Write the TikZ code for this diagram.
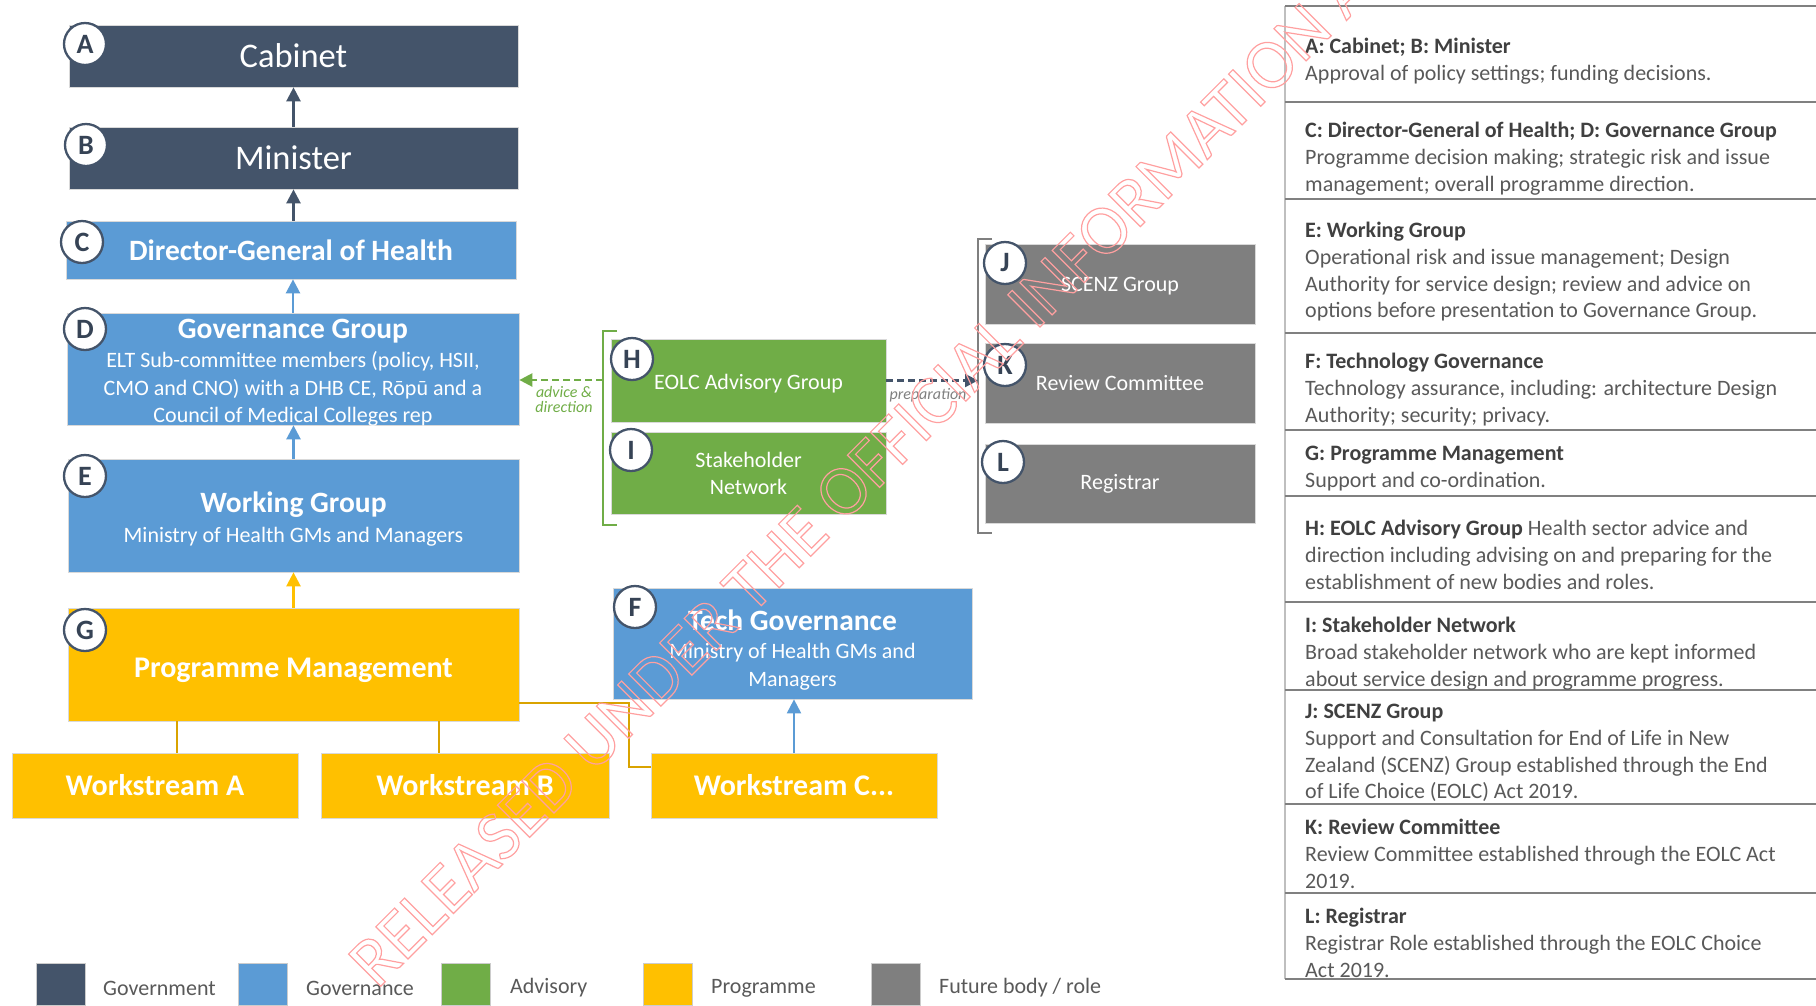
\documentclass[tikz,border=0pt]{standalone}
\usepackage{fontspec}
\setmainfont{Carlito}
\usetikzlibrary{arrows.meta}
\definecolor{govc}{HTML}{44546A}
\definecolor{bluc}{HTML}{5B9BD5}
\definecolor{grnc}{HTML}{70AD47}
\definecolor{yelc}{HTML}{FFC000}
\definecolor{gryc}{HTML}{7F7F7F}
\definecolor{txtc}{HTML}{595959}
\definecolor{ttlc}{HTML}{404040}
\definecolor{wmc}{HTML}{FFA0A0}
\newcommand{\wmout}[1]{\special{pdf:literal 1 Tr 1.2 w}#1\special{pdf:literal 0 Tr}}
\newcommand{\tstrut}[1]{\rule{0pt}{#1}}
\begin{document}
\begin{tikzpicture}[x=1pt,y=-1pt,
  box/.style={rectangle, draw=black!15, line width=0.7pt, inner sep=0pt, text=white, align=center},
  govt/.style={box, fill=govc, font=\fontsize{34.5}{40}\selectfont},
  gvn/.style={box, fill=bluc},
  adv/.style={box, fill=grnc, font=\fontsize{22}{27}\selectfont},
  prg/.style={box, fill=yelc, font=\fontsize{30}{34}\selectfont\bfseries},
  fut/.style={box, fill=gryc, font=\fontsize{22}{27}\selectfont},
  boxtext/.style={inner sep=0pt, text=white, align=center},
  badge/.style={circle, fill=white, draw=govc, line width=2.3pt, minimum size=42pt, inner sep=0pt, font=\fontsize{28}{28}\selectfont\bfseries, text=govc!80!black},
  arr/.style={-{Triangle[length=14pt,width=14pt]}, line width=2.4pt},
  yline/.style={draw=yelc!85!black, line width=2pt},
  dasharr/.style={-{Triangle[length=13pt,width=13pt]}, line width=2.4pt, dash pattern=on 7pt off 4pt},
  brk/.style={line width=2pt},
  entry/.style={anchor=north west, inner sep=0pt, align=left, text=txtc, font=\fontsize{22}{26.7}\selectfont},
  legsq/.style={rectangle, draw=black!20, line width=0.7pt, minimum width=49pt, minimum height=42pt, inner sep=0pt},
  leglab/.style={anchor=west, inner sep=0pt, text=txtc, font=\fontsize{22}{26}\selectfont},
  sepline/.style={draw=black!50, line width=2pt}
]
\useasboundingbox (0,0) rectangle (1816,1005);

% --- left hierarchy
\node[govt, minimum width=449pt, minimum height=62pt] (cab) at (293.5,56) {Cabinet};
\node[govt, minimum width=449pt, minimum height=62pt] (min) at (293.5,158) {Minister};
\node[gvn, minimum width=450pt, minimum height=58pt, font=\fontsize{29.5}{34}\selectfont\bfseries] (dg) at (291,250) {Director-General of Health};
\node[gvn, minimum width=452pt, minimum height=112pt] (gov) at (293,369) {};
\node[boxtext, font=\fontsize{22}{27.5}\selectfont] (govtx) at ([yshift=-4pt]gov.center)
  {{\fontsize{29.5}{27.5}\selectfont\bfseries Governance Group}\\[1.5pt]ELT Sub-committee members (policy, HSII,\\CMO and CNO) with a DHB CE, Rōpū and a\\Council of Medical Colleges rep};
\node[gvn, minimum width=451pt, minimum height=113pt] (wg) at (293.5,515.5) {};
\node[boxtext, font=\fontsize{22}{29.7}\selectfont] (wgtx) at ([yshift=-3.5pt]wg.center)
  {{\fontsize{29.5}{29.7}\selectfont\bfseries Working Group}\\Ministry of Health GMs and Managers};
\node[prg, minimum width=451pt, minimum height=113pt] (pm) at (293.5,664.5) {\tstrut{31pt}Programme Management};
\node[prg, minimum width=286pt, minimum height=65pt] (wsa) at (155,785.5) {Workstream A};
\node[prg, minimum width=288pt, minimum height=65pt] (wsb) at (465,785.5) {Workstream B};
\node[prg, minimum width=286pt, minimum height=65pt] (wsc) at (794,785.5) {Workstream C...};
\node[gvn, minimum width=359pt, minimum height=111pt, font=\fontsize{22}{28}\selectfont] (tg) at (792.5,643.5)
  {\tstrut{33pt}{\fontsize{29.5}{28}\selectfont\bfseries Tech Governance}\\Ministry of Health GMs and\\Managers};

% --- advisory
\node[adv, minimum width=275pt, minimum height=83pt] (h) at (748.5,380.5) {\tstrut{22pt}EOLC Advisory Group};
\node[adv, minimum width=275pt, minimum height=82pt] (i) at (748.5,473) {Stakeholder\\Network};

% --- future bodies
\node[fut, minimum width=270pt, minimum height=80pt] (j) at (1120,284) {\tstrut{19pt}SCENZ Group};
\node[fut, minimum width=270pt, minimum height=80pt] (k) at (1120,383) {Review Committee};
\node[fut, minimum width=270pt, minimum height=79pt] (l) at (1120,483.5) {Registrar};

% --- brackets
\draw[brk, grnc] (617,331) -- (603,331) -- (603,525) -- (617,525);
\draw[brk, gryc] (992,239) -- (978,239) -- (978,533) -- (992,533);
\coordinate (gb) at (603,380);
\coordinate (kb) at (978,380.5);

% --- connectors
\draw[arr, govc] (min.north) -- (min.north |- cab.south);
\draw[arr, govc] (dg.north -| min.south) -- (min.south);
\draw[arr, bluc] (gov.north) -- (gov.north |- dg.south);
\draw[arr, bluc] (wg.north) -- (wg.north |- gov.south);
\draw[arr, yelc] (pm.north) -- (pm.north |- wg.south);
\draw[arr, bluc, line width=2pt] (wsc.north) -- (wsc.north |- tg.south);
\draw[yline] ([xshift=22pt]wsa.north) -- ([xshift=22pt]wsa.north |- pm.south);
\draw[yline] ([xshift=-26pt]wsb.north) -- ([xshift=-26pt]wsb.north |- pm.south);
\coordinate (pmr) at ([yshift=-38.5pt]pm.east);
\coordinate (wscl) at ([yshift=18.5pt]wsc.west);
\draw[yline] (pmr) -- ++(110,0) |- (wscl);
\draw[dasharr, grnc] (gb) -- (gb -| gov.east);
\node[text=grnc, align=center, inner sep=0pt, font=\fontsize{16}{15}\selectfont\itshape] (adl) at (564,399) {advice \&\\direction};
\draw[dasharr, govc] (h.east) -- (kb);
\node[text=gryc, inner sep=0pt, font=\fontsize{16}{16}\selectfont\itshape] (prl) at (928,395) {preparation};

% --- badges
\node[badge] (ba) at (85,44) {A};
\node[badge] (bb) at (86,145) {B};
\node[badge] (bc) at (82,242) {C};
\node[badge] (bd) at (85,329) {D};
\node[badge] (be) at (85,476) {E};
\node[badge] (bg) at (85,630) {G};
\node[badge] (bf) at (635,607) {F};
\node[badge] (bh) at (632,359) {H};
\node[badge] (bi) at (631,450) {I};
\node[badge] (bj) at (1005,263) {J};
\node[badge] (bk) at (1005,365) {K};
\node[badge] (bl) at (1003,462) {L};

% --- legend
\node[legsq, fill=govc] (lg1) at (60.5,984) {};
\node[legsq, fill=bluc] (lg2) at (263,984) {};
\node[legsq, fill=grnc] (lg3) at (465.5,984) {};
\node[legsq, fill=yelc] (lg4) at (668,984) {};
\node[legsq, fill=gryc] (lg5) at (895.5,984) {};
\node[leglab] (lt1) at (103,988) {Government};
\node[leglab] (lt2) at (306,988) {Governance};
\node[leglab] (lt3) at (510,988) {Advisory};
\node[leglab] (lt4) at (711,988) {Programme};
\node[leglab] (lt5) at (939,988) {Future body / role};

% --- right panel
\draw[draw=black!25, line width=1.5pt] (1285,6) -- (1285,979);
\foreach \yy in {6,102,199,333,430,496,602,690,804,893,979}
  \draw[sepline] (1285,\yy) -- (1816,\yy);
\node[entry] (ea) at (1305,38) {\textcolor{ttlc}{\bfseries A: Cabinet; B: Minister}\\Approval of policy settings; funding decisions.};
\node[entry] (ec) at (1305,122) {\textcolor{ttlc}{\bfseries C: Director-General of Health; D: Governance Group}\\Programme decision making; strategic risk and issue\\management; overall programme direction.};
\node[entry] (ee) at (1305,222) {\textcolor{ttlc}{\bfseries E: Working Group}\\Operational risk and issue management; Design\\Authority for service design; review and advice on\\options before presentation to Governance Group.};
\node[entry] (ef) at (1305,353) {\textcolor{ttlc}{\bfseries F: Technology Governance}\\Technology assurance, including: architecture Design\\Authority; security; privacy.};
\node[entry] (eg) at (1305,446) {\textcolor{ttlc}{\bfseries G: Programme Management}\\Support and co-ordination.};
\node[entry] (eh) at (1305,520) {\textcolor{ttlc}{\bfseries H: EOLC Advisory Group} Health sector advice and\\direction including advising on and preparing for the\\establishment of new bodies and roles.};
\node[entry] (ei) at (1305,617) {\textcolor{ttlc}{\bfseries I: Stakeholder Network}\\Broad stakeholder network who are kept informed\\about service design and programme progress.};
\node[entry] (ej) at (1305,704) {\textcolor{ttlc}{\bfseries J: SCENZ Group}\\Support and Consultation for End of Life in New\\Zealand (SCENZ) Group established through the End\\of Life Choice (EOLC) Act 2019.};
\node[entry] (ek) at (1305,819) {\textcolor{ttlc}{\bfseries K: Review Committee}\\Review Committee established through the EOLC Act\\2019.};
\node[entry] (el) at (1305,908) {\textcolor{ttlc}{\bfseries L: Registrar}\\Registrar Role established through the EOLC Choice\\Act 2019.};

% --- watermark
\node[rotate=45, anchor=base west, inner sep=0pt, text=wmc, font=\fontsize{71}{71}\selectfont] (wm) at (377,990) {\wmout{RELEASED UNDER THE OFFICIAL INFORMATION ACT}};
\end{tikzpicture}
\end{document}
